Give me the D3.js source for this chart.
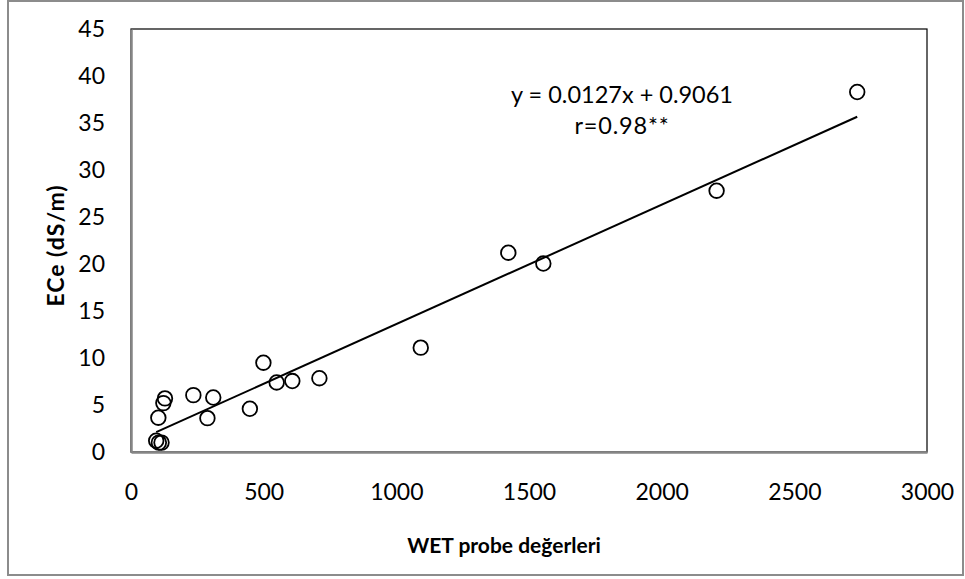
<!DOCTYPE html>
<html>
<head>
<meta charset="utf-8">
<script src="https://cdn.jsdelivr.net/npm/d3@7"></script>
<style>
  body { margin: 0; background: #fff; }
  text { font-family: Lato, "Open Sans", sans-serif; fill: #000; }
</style>
</head>
<body>
<div id="chart"></div>
<script>
// WET probe readings vs ECe
const wetValues = [95, 105, 115, 103, 122, 128, 235, 288, 310, 448, 499, 549, 608, 710, 1092, 1422, 1554, 2207, 2737];
const eceValues = [1.2, 1.0, 1.0, 3.65, 5.2, 5.7, 6.05, 3.6, 5.8, 4.6, 9.5, 7.4, 7.55, 7.85, 11.1, 21.2, 20.05, 27.8, 38.3];
const xTicks = [0, 500, 1000, 1500, 2000, 2500, 3000];
const yTicks = [0, 5, 10, 15, 20, 25, 30, 35, 40, 45];
const slope = 0.0127, intercept = 0.9061;

const width = 965, height = 579;
const margin = { top: 29, right: 38, bottom: 127, left: 131 },
    plotWidth = width - margin.left - margin.right,
    plotHeight = height - margin.top - margin.bottom;

const svg = d3.select("#chart").append("svg")
    .attr("width", width)
    .attr("height", height);

// outer chart border
svg.append("rect")
    .attr("x", 8).attr("y", 1)
    .attr("width", 955).attr("height", 574)
    .attr("fill", "none")
    .attr("stroke", "#8c8c8c")
    .attr("stroke-width", 2);

const g = svg.append("g")
    .attr("transform", `translate(${margin.left},${margin.top})`);

const x = d3.scaleLinear().domain([0, 3000]).range([0, plotWidth]);
const y = d3.scaleLinear().domain([0, 45]).range([plotHeight, 0]);

// plot area border
g.append("rect")
    .attr("width", plotWidth).attr("height", plotHeight)
    .attr("fill", "none")
    .attr("stroke", "#000")
    .attr("stroke-width", 1.2);

const xAxis = g.append("g")
    .attr("transform", `translate(0,${plotHeight})`)
    .call(d3.axisBottom(x).tickValues(xTicks).tickSize(0).tickPadding(32).tickFormat(d3.format("d")));
const yAxis = g.append("g")
    .call(d3.axisLeft(y).tickValues(yTicks).tickSize(0).tickPadding(26).tickFormat(d3.format("d")));

[xAxis, yAxis].forEach(a => {
    a.select(".domain").attr("stroke", "#868686").attr("stroke-width", 2.5);
    a.selectAll("text").style("font-size", "23px").attr("fill", "#000");
});

// trendline
const xMin = d3.min(wetValues), xMax = d3.max(wetValues);
g.append("line")
    .attr("x1", x(xMin)).attr("y1", y(slope * xMin + intercept))
    .attr("x2", x(xMax)).attr("y2", y(slope * xMax + intercept))
    .attr("stroke", "#000")
    .attr("stroke-width", 2);

// points
g.selectAll(".pt")
    .data(wetValues.map((v, i) => ({ wet: v, ece: eceValues[i] })))
    .enter().append("circle")
    .attr("class", "pt")
    .attr("cx", d => x(d.wet))
    .attr("cy", d => y(d.ece))
    .attr("r", 7.3)
    .attr("fill", "none")
    .attr("stroke", "#000")
    .attr("stroke-width", 1.8);

// equation label
g.append("text")
    .attr("x", 622 - margin.left).attr("y", 103 - margin.top)
    .attr("text-anchor", "middle")
    .style("font-size", "23.5px")
    .text("y = 0.0127x + 0.9061");
g.append("text")
    .attr("x", 622 - margin.left).attr("y", 134 - margin.top)
    .attr("text-anchor", "middle")
    .style("font-size", "23.5px")
    .style("letter-spacing", "0.8px")
    .text("r=0.98**");

// axis titles
svg.append("text")
    .attr("x", margin.left + plotWidth / 2 - 25).attr("y", 553)
    .attr("text-anchor", "middle")
    .style("font-size", "21px")
    .style("font-weight", "bold")
    .text("WET probe değerleri");
svg.append("text")
    .attr("transform", `translate(64,${margin.top + plotHeight / 2 + 5}) rotate(-90)`)
    .attr("text-anchor", "middle")
    .style("font-size", "23px")
    .style("font-weight", "bold")
    .style("letter-spacing", "1px")
    .text("ECe (dS/m)");
</script>
</body>
</html>
